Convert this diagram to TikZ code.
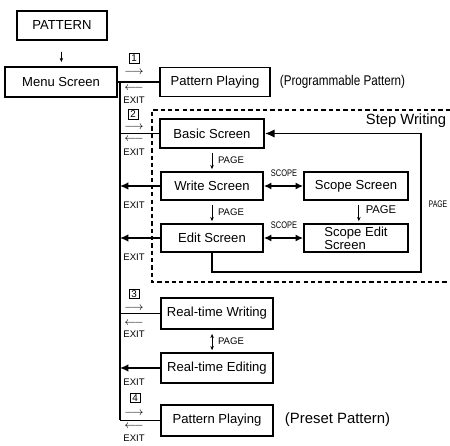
\documentclass[tikz,border=0pt]{standalone}
\usepackage{fontspec}
\setmainfont{Liberation Sans}
\usetikzlibrary{arrows.meta}
\tikzset{
    screen/.style={draw, line width=1pt, inner sep=1pt,
    	font=\fontsize{9.3}{10}\selectfont}
}
\tikzset{
    tag/.style={inner sep=0pt, font=\fontsize{6.8}{8}\selectfont},
    numbox/.style={draw, line width=0.6pt, inner sep=0pt, minimum width=0.25cm,
    	minimum height=0.23cm, font=\fontsize{7}{8}\selectfont},
    glyph/.style={inner sep=0pt, font=\fontsize{8}{9}\selectfont}
}
\tikzset{
    link/.style={line width=1.3pt},
    exitarrow/.style={line width=2pt, -{Latex[length=6pt,width=5.5pt]}},
    scopearrow/.style={line width=2pt, {Latex[length=5.5pt,width=5pt]}-{Latex[length=5.5pt,width=5pt]}},
    pagearrow/.style={line width=0.5pt, -{Stealth[length=3pt,width=2.5pt]},
    	shorten <=3pt, shorten >=1.5pt},
    stepline/.style={line width=1.4pt, -{Latex[length=7pt,width=6pt]}},
    stepframe/.style={line width=0.8pt, dash pattern=on 3pt off 2.2pt}
}

\begin{document}
\begin{tikzpicture}[x=0.025cm, y=-0.025cm]
	\useasboundingbox (0,0) rectangle (450,446);
	% screens
	\node [screen, minimum width=2.25cm, minimum height=0.725cm] (pattern) at (62,25.5) {PATTERN};
	\node [screen, minimum width=2.8cm, minimum height=0.75cm] (menu) at (61,82) {Menu Screen};
	\node [screen, minimum width=2.75cm, minimum height=0.725cm] (playprog) at (215,82) {Pattern Playing};
	\node [screen, minimum width=2.6cm, minimum height=0.725cm] (basic) at (212,133.5) {Basic Screen};
	\node [screen, minimum width=2.55cm, minimum height=0.7cm] (write) at (212,186) {Write Screen};
	\node [screen, minimum width=2.55cm, minimum height=0.7cm] (edit) at (212,238) {Edit Screen};
	\node [screen, minimum width=2.6cm, minimum height=0.7cm] (scope) at (356,186) {Scope Screen};
	\node [screen, minimum width=2.6cm, minimum height=0.7cm, align=left,
		font=\fontsize{9.3}{9.3}\selectfont] (scopeedit) at (356,238) {Scope Edit\\Screen};
	\node [screen, minimum width=2.8cm, minimum height=0.775cm] (rtwrite) at (217,313.5) {Real-time Writing};
	\node [screen, minimum width=2.8cm, minimum height=0.75cm] (rtedit) at (217,368) {Real-time Editing};
	\node [screen, minimum width=2.8cm, minimum height=0.775cm] (playpre) at (217,420.5) {Pattern Playing};
	% side texts
	\node [inner sep=0pt, font=\fontsize{10}{11}\selectfont, xscale=0.83] (progtxt) at (342.5,82) {(Programmable Pattern)};
	\node [inner sep=0pt, font=\fontsize{10.6}{11}\selectfont] (presettxt) at (337.5,420) {(Preset Pattern)};
	\node [inner sep=0pt, font=\fontsize{10.5}{11}\selectfont] (steptxt) at (406,121) {Step Writing};
	% step writing frame
	\draw [stepframe] (450,110) -- (152,110) -- (152,282) -- (450,282);
	% trunk
	\coordinate (trunktop) at (120,82);
	\coordinate (trunkbot) at (120,420.5);
	\draw [line width=0.5pt, -{Stealth[length=3pt,width=2.5pt]}, shorten <=8pt, shorten >=3pt] (pattern) -- (menu);
	\draw [link] (menu.east) -- (playprog.west);
	\draw [link] (trunktop) -- (trunkbot);
	\draw [link] (basic.west -| trunktop) -- (basic.west);
	\draw [link] (rtwrite.west -| trunktop) -- (rtwrite.west);
	\draw [link] (trunkbot) -- (playpre.west);
	\draw [exitarrow] (write.west) -- (write.west -| trunktop);
	\draw [exitarrow] (edit.west) -- (edit.west -| trunktop);
	\draw [exitarrow] (rtedit.west) -- (rtedit.west -| trunktop);
	% scope and page moves
	\draw [scopearrow] (write.east) -- (scope.west);
	\draw [scopearrow] (edit.east) -- (scopeedit.west);
	\node [tag, xscale=0.78] (scopeA) at (284,173) {SCOPE};
	\node [tag, xscale=0.78] (scopeB) at (284,225) {SCOPE};
	\draw [pagearrow] (basic.south) -- (write.north);
	\draw [pagearrow] (write.south) -- (edit.north);
	\draw [pagearrow] ([xshift=2pt]scope.south) -- ([xshift=2pt]scopeedit.north);
	\draw [pagearrow, {Stealth[length=3pt,width=2.5pt]}-{Stealth[length=3pt,width=2.5pt]}, shorten <=3pt]
		([xshift=-3.5pt]rtwrite.south) -- ([xshift=-3.5pt]rtedit.north);
	\node [tag] (pageA) at (231,160) {PAGE};
	\node [tag] (pageB) at (231,212) {PAGE};
	\node [inner sep=0pt, font=\fontsize{8}{9}\selectfont] (pageC) at (381,210) {PAGE};
	\node [tag] (pageD) at (231,341) {PAGE};
	% back to basic screen
	\coordinate (loopcorner) at (421,272);
	\draw [stepline] (edit.south) |- (loopcorner) |- (basic.east);
	\node [tag, xscale=0.72] (pageE) at (438,204) {PAGE};
	% entries and exits
	\node [numbox] (numA) at (134,58.5) {1};
	\node [glyph] (inA) at (134,72) {$\longrightarrow$};
	\node [glyph] (outA) at (134,88) {$\longleftarrow$};
	\node [tag] (exitA) at (134,100) {EXIT};
	\node [numbox] (numB) at (133,114.5) {2};
	\node [glyph] (inB) at (134,127) {$\longrightarrow$};
	\node [glyph] (outB) at (134,139) {$\longleftarrow$};
	\node [tag] (exitB) at (134,152) {EXIT};
	\node [tag] (exitC) at (134,205) {EXIT};
	\node [tag] (exitD) at (134,257) {EXIT};
	\node [numbox] (numC) at (134,294) {3};
	\node [glyph] (inC) at (134,308) {$\longrightarrow$};
	\node [glyph] (outC) at (134,323) {$\longleftarrow$};
	\node [tag] (exitE) at (134,334) {EXIT};
	\node [tag] (exitF) at (134,382) {EXIT};
	\node [numbox] (numD) at (135,398) {4};
	\node [glyph] (inD) at (134,413) {$\longrightarrow$};
	\node [glyph] (outD) at (134,426) {$\longleftarrow$};
	\node [tag] (exitG) at (134,438) {EXIT};
\end{tikzpicture}
\end{document}
